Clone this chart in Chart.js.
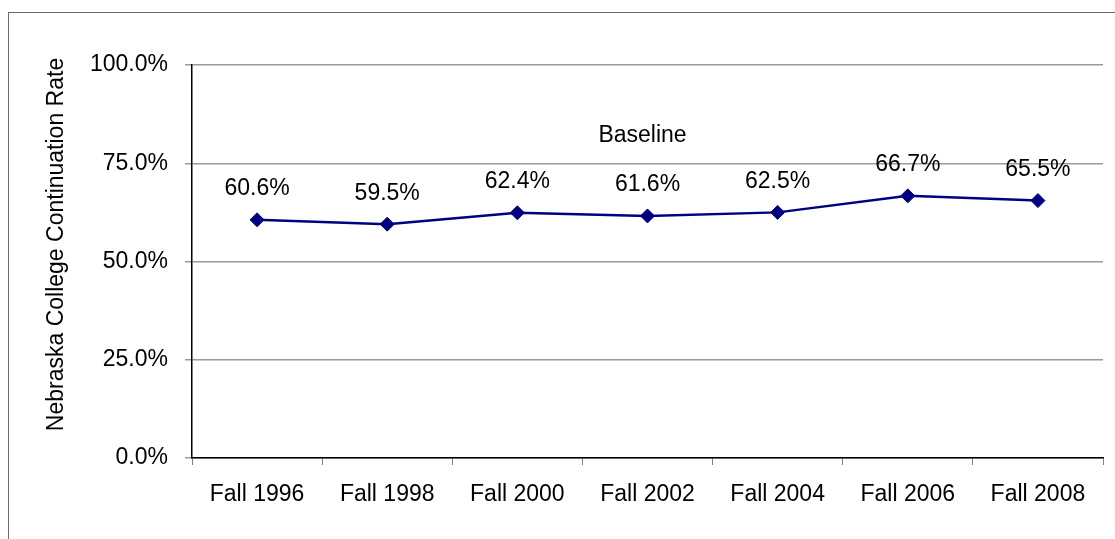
<!DOCTYPE html>
<html>
<head>
<meta charset="utf-8">
<script src="https://cdn.jsdelivr.net/npm/chart.js@4"></script>
<style>
    html, body { margin: 0; padding: 0; background: #fff; }
    #wrap { position: relative; width: 1115px; height: 539px; overflow: hidden; }
    #frame { position: absolute; left: 8px; top: 12px; width: 1200px; height: 600px; border: 1px solid #6b6b6b; }
    canvas { position: absolute; left: 0; top: 0; }
</style>
</head>
<body>
<div id="wrap">
    <div id="frame"></div>
    <canvas id="rateChart" width="1115" height="539"></canvas>
</div>
<script>
// Chart data
const categories = ["Fall 1996", "Fall 1998", "Fall 2000", "Fall 2002", "Fall 2004", "Fall 2006", "Fall 2008"];
const rates = [60.6, 59.5, 62.4, 61.6, 62.5, 66.7, 65.5];
const yTicks = [0, 25, 50, 75, 100];
const seriesName = "Baseline";
const axisTitle = "Nebraska College Continuation Rate";

const FONT = "'Liberation Sans', Arial, sans-serif";

// Value labels above points, series name inside the plot, y-axis title
const labelPlugin = {
    id: "pointLabels",
    afterDatasetsDraw(chart) {
        const ctx = chart.ctx;
        const meta = chart.getDatasetMeta(0);
        const area = chart.chartArea;
        ctx.save();
        ctx.font = "23px " + FONT;
        ctx.fillStyle = "#000";
        ctx.textAlign = "center";
        ctx.textBaseline = "middle";
        meta.data.forEach((pt, i) => {
            ctx.fillText(rates[i].toFixed(1) + "%", pt.x, pt.y - 31);
        });
        ctx.fillText(seriesName, (area.left + area.right) / 2 - 5, chart.scales.y.getPixelForValue(82));

        // y title, a bit above the plot centre like the original
        ctx.translate(57, (area.top + area.bottom) / 2 - 17);
        ctx.rotate(-Math.PI / 2);
        ctx.fillText(axisTitle, 0, 0);
        ctx.restore();
    }
};

new Chart(document.getElementById("rateChart").getContext("2d"), {
    type: "line",
    data: {
        labels: categories,
        datasets: [{
            label: seriesName,
            data: rates,
            borderColor: "#000080",
            backgroundColor: "#000080",
            borderWidth: 2.5,
            pointStyle: "rectRot",
            pointRadius: 7,
            pointBorderWidth: 1,
            pointBackgroundColor: "#000080",
            pointBorderColor: "#000080",
            tension: 0,
            fill: false
        }]
    },
    options: {
        responsive: false,
        animation: false,
        devicePixelRatio: 1,
        layout: { padding: { top: 65, right: 12, left: 42, bottom: 0 } },
        plugins: {
            legend: { display: false },
            tooltip: { enabled: false }
        },
        scales: {
            x: {
                offset: true,
                grid: {
                    offset: true,
                    drawOnChartArea: false,
                    drawTicks: true,
                    tickLength: 7,
                    color: "#808080"
                },
                border: { display: true, color: "#000", width: 1.5 },
                ticks: {
                    color: "#000",
                    font: { family: FONT, size: 23 },
                    padding: 16,
                    maxRotation: 0
                },
                afterFit(axis) { axis.height = 81; }
            },
            y: {
                min: 0,
                max: 100,
                afterBuildTicks(axis) { axis.ticks = yTicks.map(v => ({ value: v })); },
                grid: {
                    color: "#9a9a9a",
                    lineWidth: 1.5,
                    tickLength: 7,
                    drawTicks: true
                },
                border: { display: true, color: "#000", width: 1.5 },
                ticks: {
                    color: "#000",
                    font: { family: FONT, size: 23 },
                    padding: 17,
                    callback: v => v.toFixed(1) + "%"
                },
                afterFit(axis) { axis.width = 150; }
            }
        }
    },
    plugins: [labelPlugin]
});
</script>
</body>
</html>
